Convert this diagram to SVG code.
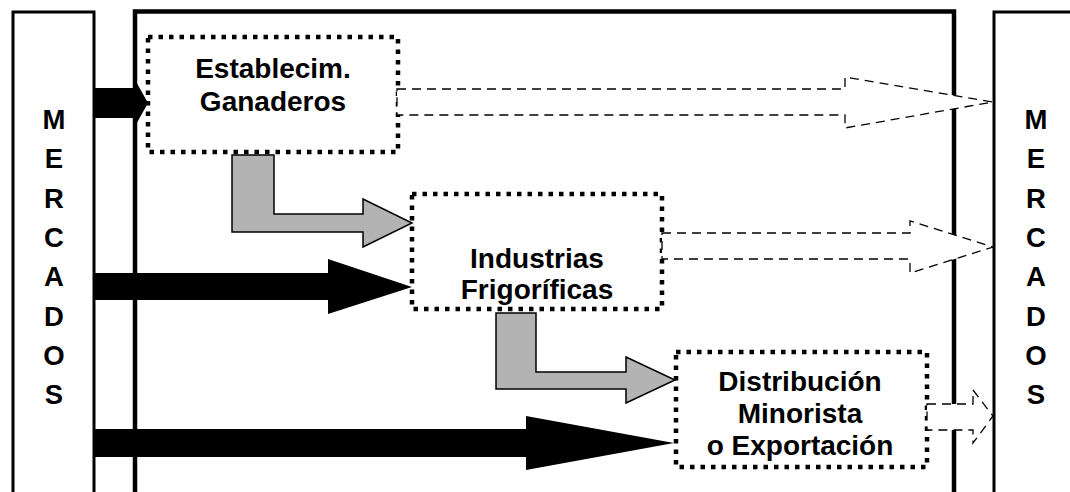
<svg xmlns="http://www.w3.org/2000/svg" width="1070" height="492" viewBox="0 0 1070 492">
  <style>
    .lbl { font-family: "Liberation Sans", Arial, sans-serif; font-weight: bold; font-size: 28px; fill: #000; text-anchor: middle; }
    .mkt { font-family: "Liberation Sans", Arial, sans-serif; font-weight: bold; font-size: 27.5px; fill: #000; text-anchor: middle; }
    .market { fill: #fff; stroke: #000; stroke-width: 3; }
    .frame { fill: none; stroke: #000; stroke-width: 4.5; }
    .stage { fill: #fff; stroke: #000; stroke-width: 4.5; stroke-dasharray: 4.5 6; }
    .solid { fill: #000; stroke: none; }
    .flow { fill: #b3b3b3; stroke: #000; stroke-width: 1.5; stroke-linejoin: miter; }
    .out { fill: #fff; stroke: #000; stroke-width: 1.3; stroke-dasharray: 9 6; }
  </style>

  <rect width="1070" height="492" fill="#fff"/>

  <!-- supply chain frame -->
  <path class="frame" d="M135,500 V11.5 H954 V500"/>

  <!-- input markets -->
  <g id="mercados-entrada">
    <rect class="market" x="13" y="12" width="81" height="495"/>
    <text class="mkt" x="54" y="129">M<tspan x="54" dy="39.3">E</tspan><tspan x="54" dy="39.3">R</tspan><tspan x="54" dy="39.3">C</tspan><tspan x="54" dy="39.3">A</tspan><tspan x="54" dy="39.3">D</tspan><tspan x="54" dy="39.3">O</tspan><tspan x="54" dy="39.3">S</tspan></text>
  </g>

  <!-- output markets -->
  <g id="mercados-salida">
    <rect class="market" x="994" y="12" width="100" height="495"/>
    <text class="mkt" x="1036" y="129">M<tspan x="1036" dy="39.3">E</tspan><tspan x="1036" dy="39.3">R</tspan><tspan x="1036" dy="39.3">C</tspan><tspan x="1036" dy="39.3">A</tspan><tspan x="1036" dy="39.3">D</tspan><tspan x="1036" dy="39.3">O</tspan><tspan x="1036" dy="39.3">S</tspan></text>
  </g>

  <g id="establecimientos">
    <rect class="stage" x="148" y="37" width="250" height="115"/>
    <text class="lbl" x="273" y="78">Establecim.</text>
    <text class="lbl" x="273" y="111">Ganaderos</text>
  </g>

  <g id="frigorificos">
    <rect class="stage" x="412" y="194" width="250" height="115"/>
    <text class="lbl" x="537" y="268">Industrias</text>
    <text class="lbl" x="537" y="299">Frigoríficas</text>
  </g>

  <g id="distribucion">
    <rect class="stage" x="676" y="352" width="251" height="115"/>
    <text class="lbl" x="800" y="391">Distribución</text>
    <text class="lbl" x="800" y="423">Minorista</text>
    <text class="lbl" x="800" y="455">o Exportación</text>
  </g>

  <g id="connectors">
    <!-- inputs from markets -->
    <polygon class="solid" points="94,88 134,88 134,78 148,103 134,128 134,118 94,118"/>
    <polygon class="solid" points="94,273 328,273 328,259 412,287 328,314 328,300 94,300"/>
    <polygon class="solid" points="94,429 526,429 526,416 674,443 526,470 526,457 94,457"/>
    <!-- flow between stages -->
    <polygon class="flow" points="232,155 274,155 274,214 363,214 363,199 412,223 363,247 363,232 232,232"/>
    <polygon class="flow" points="496,313 536,313 536,372 626,372 626,357 675,380 626,403 626,389 496,389"/>
    <!-- outputs to markets -->
    <polygon class="out" points="397,89 845,89 845,77 993,102 845,128 845,115 397,115"/>
    <polygon class="out" points="662,233 910,233 910,221 993,247 910,273 910,259 662,259"/>
    <polygon class="out" points="927,404 973,404 973,390 993,416 973,443 973,430 927,430"/>
  </g>
</svg>
